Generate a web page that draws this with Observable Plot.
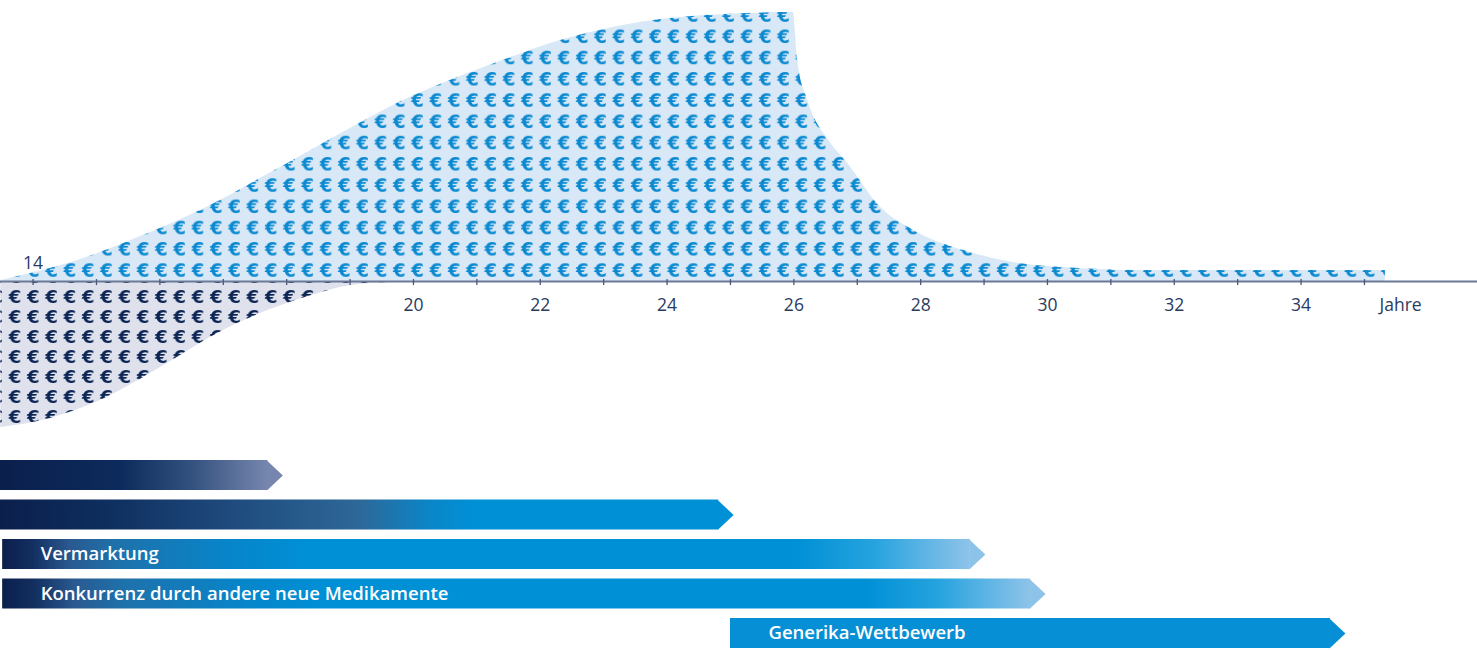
<!DOCTYPE html>
<html>
<head>
<meta charset="utf-8">
<script src="https://cdn.jsdelivr.net/npm/d3@7"></script>
<script src="https://cdn.jsdelivr.net/npm/@observablehq/plot@0.6"></script>
<style>
  html, body { margin: 0; padding: 0; background: #fff; }
  #chart { width: 1477px; }
  #chart svg { display: block; }
</style>
</head>
<body>
<div id="chart"></div>
<script>
// Revenue above the axis (relative value, peak = 100)
const revenueYears  = [13.49, 14.01, 14.75, 15.58, 16.64, 17.70, 18.74, 19.80, 20.54, 21.37, 22.32, 23.90, 25.16, 25.99, 26.06, 26.22, 26.55, 26.85, 27.37, 27.89, 28.68, 29.46, 30.57, 31.63, 35.33];
const revenueValues = [0.4, 3.3, 8.2, 15.6, 26.4, 39.8, 53.5, 66.9, 74.4, 81.8, 89.6, 97.4, 99.6, 100, 82.2, 67.3, 52.4, 43.9, 27.5, 19.0, 11.5, 7.1, 4.8, 4.1, 4.1];

// Costs below the axis
const costYears  = [13.49, 14.27, 15.06, 15.85, 16.37, 16.91, 17.70, 18.49, 19.01, 19.53, 20.11];
const costValues = [-54.3, -50.9, -44.2, -34.2, -26.8, -19.3, -10.8, -4.5, -1.5, -0.4, 0];

// Axis
const tickYears  = d3.range(14, 36);
const labelYears = [20, 22, 24, 26, 28, 30, 32, 34];
const startYear  = [14];
const unitLabel  = "Jahre";
const unitYear   = 35.57;

// Phases (start year, arrow tip year)
const phaseLabels = ["", "", "Vermarktung", "Konkurrenz durch andere neue Medikamente", "Generika-Wettbewerb"];
const phaseStart  = [13.486, 13.486, 13.52, 13.52, 25.0];
const phaseEnd    = [17.94, 25.05, 29.02, 29.97, 34.70];

// ---- styles ----
const FONT = "'Open Sans', 'DejaVu Sans', sans-serif";
const EURO_FONT = "'DejaVu Sans', sans-serif";
const INK = "#2b3a5f";
const xScale = {domain: [13.486, 36.783], range: [0, 1477]};

const phaseGradients = [
  [[0, "#0b1f4c"], [0.45, "#0c2b5c"], [0.72, "#34527f"], [1, "#7686ae"]],
  [[0, "#0b1f4c"], [0.14, "#0d2d5d"], [0.32, "#1f4a7d"], [0.5, "#2d6898"], [0.6, "#0a86c9"], [0.66, "#0090d6"], [1, "#0090d6"]],
  [[0, "#0b1f4c"], [0.03, "#122e5f"], [0.07, "#2a5990"], [0.12, "#1e72ac"], [0.24, "#0686cb"], [0.32, "#0090d6"], [0.82, "#0090d6"], [0.9, "#25a3de"], [1, "#8ec3e9"]],
  [[0, "#0b1f4c"], [0.03, "#122e5f"], [0.07, "#2a5990"], [0.12, "#1e72ac"], [0.24, "#0686cb"], [0.32, "#0090d6"], [0.84, "#0090d6"], [0.91, "#25a3de"], [1, "#8ec3e9"]],
  [[0, "#078fd5"], [1, "#078fd5"]]
];
const tipColors = ["#7686ae", "#0090d6", "#8ec3e9", "#8ec3e9", "#078fd5"];

const revenue = revenueYears.map((x, i) => ({x, y: revenueValues[i]}));
const cost = costYears.map((x, i) => ({x, y: costValues[i]}));

// ---- cash-flow curve ----
const curve = Plot.plot({
  width: 1477,
  height: 440,
  margin: 0,
  x: {...xScale, axis: null},
  y: {domain: [-59.1, 104.5], axis: null},
  style: {fontFamily: FONT, background: "white", overflow: "visible"},
  marks: [
    Plot.areaY(cost, {x: "x", y1: 0, y2: "y", fill: "url(#euro-cost)", curve: "monotone-x"}),
    Plot.areaY(revenue, {x: "x", y1: 0, y2: "y", fill: "url(#euro-revenue)", curve: "monotone-x"}),
    Plot.ruleY([0], {stroke: "#6b7896", strokeWidth: 2}),
    Plot.ruleX(tickYears, {x: d => d, y1: 0, y2: 0, insetTop: 4, insetBottom: 2, stroke: "#4a5878", strokeWidth: 1.3}),
    Plot.text(labelYears, {x: d => d, y: 0, dy: 24, text: d => String(d), fill: INK, fontSize: 17.5}),
    Plot.text(startYear, {x: d => d, y: 0, dy: -18, text: d => String(d), fill: INK, fontSize: 17.5}),
    Plot.text([unitLabel], {x: unitYear, y: 0, dy: 24, text: d => d, fill: INK, fontSize: 17.5})
  ]
});

// € tile patterns filling the two areas
function euroPattern(defs, id, {w, h, x0, y0, bg, fg}) {
  const p = defs.append("pattern")
    .attr("id", id)
    .attr("patternUnits", "userSpaceOnUse")
    .attr("x", x0).attr("y", y0)
    .attr("width", w).attr("height", h);
  p.append("rect").attr("width", w).attr("height", h).attr("fill", bg);
  p.append("text")
    .attr("x", w / 2).attr("y", h / 2 + 6.5)
    .attr("text-anchor", "middle")
    .attr("font-family", EURO_FONT)
    .attr("font-size", 18)
    .attr("font-weight", 700)
    .attr("fill", fg)
    .text("€");
}
const defsTop = d3.select(curve).insert("defs", ":first-child");
euroPattern(defsTop, "euro-revenue", {w: 18.3, h: 21.25, x0: 24.15, y0: 259.4, bg: "#d8e8f6", fg: "#0a89d1"});
euroPattern(defsTop, "euro-cost", {w: 18.3, h: 20, x0: 24.15, y0: 286, bg: "#dfe2ed", fg: "#0c2554"});

// ---- phase arrows ----
const phases = phaseLabels.map((label, i) => ({row: i, label, start: phaseStart[i], end: phaseEnd[i]}));

const arrowTip = {
  draw(context, size) {
    const r = Math.sqrt(size / Math.PI);
    context.moveTo(-r - 1, -r);
    context.lineTo(0, 0);
    context.lineTo(-r - 1, r);
    context.closePath();
  }
};

const bars = Plot.plot({
  width: 1477,
  height: 212,
  margin: 0,
  x: {...xScale, axis: null},
  y: {type: "band", domain: phases.map(d => d.row), range: [20, 208], paddingInner: 0.2405, paddingOuter: 0, round: false, axis: null},
  color: {type: "identity"},
  style: {fontFamily: FONT, background: "white", overflow: "visible"},
  marks: [
    Plot.barX(phases, {x1: "start", x2: "end", y: "row", fill: d => `url(#phase-${d.row})`, inset: 0, insetRight: 15}),
    Plot.dot(phases, {x: "end", y: "row", r: 15, symbol: arrowTip, fill: d => tipColors[d.row], stroke: "none"}),
    Plot.text(phases.filter(d => d.label), {x: "start", y: "row", text: "label", dx: 38, textAnchor: "start", fill: "white", fontSize: 18.5, fontWeight: 600})
  ]
});

const defsBars = d3.select(bars).insert("defs", ":first-child");
phaseGradients.forEach((stops, i) => {
  const g = defsBars.append("linearGradient").attr("id", `phase-${i}`).attr("x1", 0).attr("x2", 1).attr("y1", 0).attr("y2", 0);
  stops.forEach(([o, c]) => g.append("stop").attr("offset", o).attr("stop-color", c));
});

document.getElementById("chart").append(curve, bars);
</script>
</body>
</html>
